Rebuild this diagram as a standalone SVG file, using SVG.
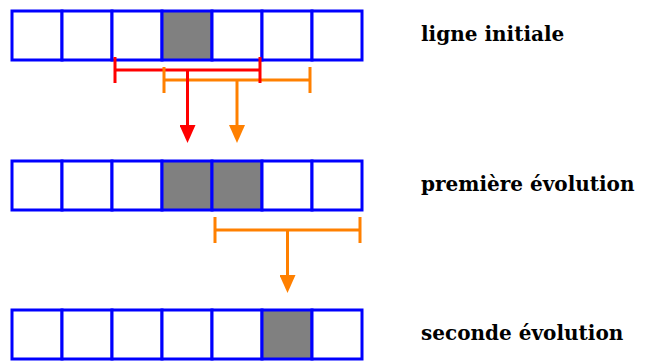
<svg xmlns="http://www.w3.org/2000/svg" width="651" height="363" viewBox="0 0 651 363">
<defs>
<style>
.cell{fill:#ffffff;stroke:#0000ff;stroke-width:3}
.on{fill:#808080;stroke:#0000ff;stroke-width:3}
.red{stroke:#ff0000;stroke-width:3;fill:none}
.org{stroke:#ff8000;stroke-width:3;fill:none}
.lbl{font-family:"DejaVu Serif","Liberation Serif",serif;font-weight:bold;font-size:20px;fill:#000000}
</style>
<marker id="ar" viewBox="0 0 18 16" markerWidth="18" markerHeight="16" refX="2" refY="8" orient="auto" markerUnits="userSpaceOnUse">
<path d="M0,0 L18,8 L0,16 Z" fill="#ff0000"/>
</marker>
<marker id="ao" viewBox="0 0 18 16" markerWidth="18" markerHeight="16" refX="2" refY="8" orient="auto" markerUnits="userSpaceOnUse">
<path d="M0,0 L18,8 L0,16 Z" fill="#ff8000"/>
</marker>
</defs>
<g id="row1">
<rect class="cell" x="12" y="11" width="50" height="49"/>
<rect class="cell" x="62" y="11" width="50" height="49"/>
<rect class="cell" x="112" y="11" width="50" height="49"/>
<rect class="on" x="162" y="11" width="50" height="49"/>
<rect class="cell" x="212" y="11" width="50" height="49"/>
<rect class="cell" x="262" y="11" width="50" height="49"/>
<rect class="cell" x="312" y="11" width="50" height="49"/>
</g>
<g id="row2">
<rect class="cell" x="12" y="161" width="50" height="49"/>
<rect class="cell" x="62" y="161" width="50" height="49"/>
<rect class="cell" x="112" y="161" width="50" height="49"/>
<rect class="on" x="162" y="161" width="50" height="49"/>
<rect class="on" x="212" y="161" width="50" height="49"/>
<rect class="cell" x="262" y="161" width="50" height="49"/>
<rect class="cell" x="312" y="161" width="50" height="49"/>
</g>
<g id="row3">
<rect class="cell" x="12" y="310" width="50" height="49"/>
<rect class="cell" x="62" y="310" width="50" height="49"/>
<rect class="cell" x="112" y="310" width="50" height="49"/>
<rect class="cell" x="162" y="310" width="50" height="49"/>
<rect class="cell" x="212" y="310" width="50" height="49"/>
<rect class="on" x="262" y="310" width="50" height="49"/>
<rect class="cell" x="312" y="310" width="50" height="49"/>
</g>
<g id="connectors">
<path class="red" d="M115,70 H260"/>
<path class="org" d="M164,80 H310 M164,67 V93 M310,67 V93"/>
<path class="org" d="M237,80 V127" marker-end="url(#ao)"/>
<path class="red" d="M115,57 V83 M260,57 V83"/>
<path class="red" d="M187.5,70 V127" marker-end="url(#ar)"/>
<path class="org" d="M215,230 H360 M215,217 V243 M360,217 V243"/>
<path class="org" d="M287.5,230 V277" marker-end="url(#ao)"/>
</g>
<g id="labels">
<text class="lbl" x="421" y="41">ligne initiale</text>
<text class="lbl" x="421" y="191">première évolution</text>
<text class="lbl" x="421" y="340">seconde évolution</text>
</g>
</svg>
